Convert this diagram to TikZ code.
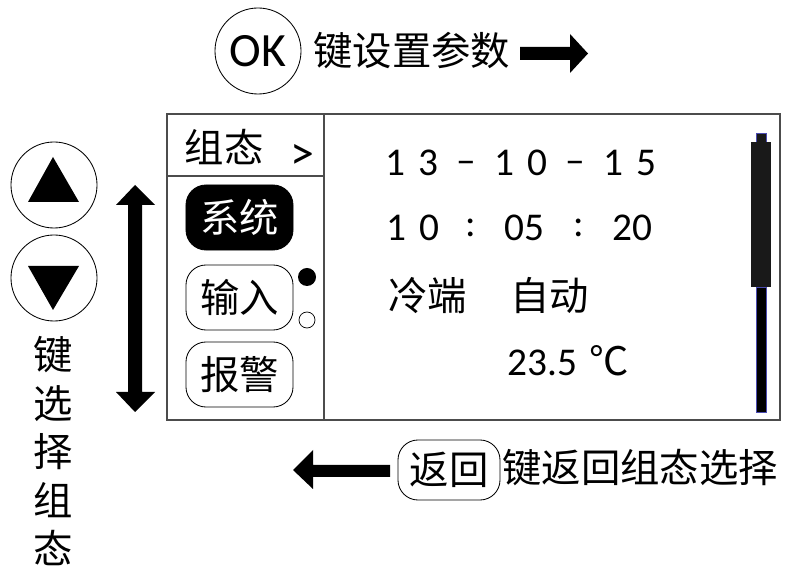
\documentclass[tikz,border=0pt]{standalone}
\usepackage{fontspec}
\setmainfont{Carlito}
\newfontfamily\cjk{Noto Sans CJK SC}
\usetikzlibrary{positioning, calc}

\begin{document}
\begin{tikzpicture}[x=0.025cm, y=-0.025cm,
  key/.style={circle, draw, line width=0.6pt, minimum size=2.15cm, inner sep=0pt},
  zh/.style={font=\cjk\fontsize{28}{30}\selectfont, inner sep=0pt},
  num/.style={font=\fontsize{28}{30}\selectfont, inner sep=0pt},
  menu/.style={draw, rounded corners=0.5cm, minimum width=2.675cm, minimum height=1.625cm, line width=0.6pt, zh}]
  \useasboundingbox (0,0) rectangle (795,569);

  % OK key on top
  \node[key, font=\fontsize{34}{36}\selectfont] (ok) at (258,51) {OK};
  \node[zh, anchor=west] (okt) at (313,51) {键设置参数};
  \fill (520,47) -- (570,47) -- (570,34) -- (588,53.5) -- (570,73) -- (570,60) -- (520,60) -- cycle;

  % up and down keys
  \node[key] (up) at (54,185) {};
  \node[key] (down) at (54,278) {};
  \fill (53,157) -- (79,202) -- (28,202) -- cycle;
  \fill (28,266) -- (79,266) -- (53,310) -- cycle;
  \foreach \c [count=\i] in {键,选,择,组,态}
    \node[zh] (v\i) at (53,{355+48.3*(\i-1)}) {\c};
  \fill (135,185) -- (155,205) -- (142,205) -- (142,392) -- (155,392) -- (135,412)
    -- (116,392) -- (128,392) -- (128,205) -- (116,205) -- cycle;

  % Draw screen
  \draw[gray!60!black, line width=0.8pt] (167,114) rectangle (780,420);
  \draw[gray!60!black, line width=0.8pt] (167,176) -- (324,176);
  \draw[gray!60!black, line width=0.8pt] (324,114) -- (324,420);

  % menu column
  \node[zh] (title) at (224,147) {组态};
  \node[num, font=\fontsize{34}{36}\selectfont] (more) at (302,157) {>};
  \node[menu, fill=black, text=white] (sys) at (239.5,217.5) {系统};
  \node[menu] (inp) at (239.5,297.5) {输入};
  \node[menu] (alm) at (239.5,374.5) {报警};
  \fill (307,277) circle (0.225cm);
  \draw[line width=0.5pt] (307,320) circle (0.2cm);

  % values
  \foreach \t/\x/\y [count=\i] in {1\,\,3/412/163, --/466/167, 1\,\,0/521/163, --/575/167, 1\,\,5/630/163}
    \node[num] (d\i) at (\x,\y) {\t};
  \foreach \t/\x [count=\i] in {1\,\,0/413, :/471, 05/524, :/579, 20/632}
    \node[num] (h\i) at (\x,228) {\t};
  \node[zh, anchor=west] (cj) at (388,296) {冷端};
  \node[zh, anchor=west] (auto) at (510,296) {自动};
  \node[num, anchor=west] (temp) at (507,363) {23.5};
  \node[zh, anchor=west] (unit) at (589,361) {℃};

  % scroll bar
  \fill[black] (756,287) rectangle (766,412);
  \draw[blue!40!gray, line width=0.4pt] (756,287) rectangle (766,412);
  \fill[black!90] (756,133) rectangle (766,142);
  \draw[blue!40!gray, line width=0.4pt] (756,133) rectangle (766,142);
  \fill[black!90] (751,142) rectangle (771,287);

  % back key
  \node[menu, minimum width=2.55cm, minimum height=1.5cm] (back) at (449,470) {返回};
  \node[zh, anchor=west] (backt) at (502,468) {键返回组态选择};
  \fill (390,465) -- (313,465) -- (313,450) -- (293,470) -- (313,489) -- (313,477) -- (390,477) -- cycle;
\end{tikzpicture}
\end{document}
